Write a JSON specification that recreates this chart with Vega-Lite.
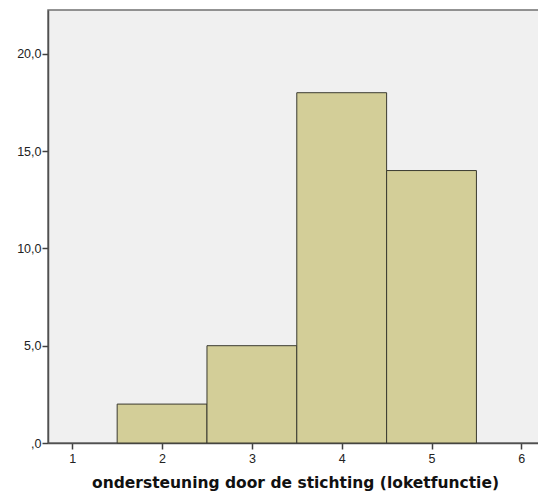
{
  "$schema": "https://vega.github.io/schema/vega-lite/v6.json",
  "autosize": {"type": "none"},
  "padding": {"left": 48, "top": 10, "right": 0, "bottom": 49},
  "width": 494,
  "height": 433,
  "background": "white",
  "config": {
    "view": {"fill": "#f0f0f0", "stroke": "#707070", "strokeWidth": 1.5},
    "font": "Liberation Sans"
  },
  "data": {
    "values": [
      {"start": 1.5, "end": 2.5, "count": 2},
      {"start": 2.5, "end": 3.5, "count": 5},
      {"start": 3.5, "end": 4.5, "count": 18},
      {"start": 4.5, "end": 5.5, "count": 14}
    ]
  },
  "mark": {"type": "rect", "fill": "#d3ce98", "stroke": "#3a3a30", "strokeWidth": 1},
  "encoding": {
    "x": {
      "field": "start", "type": "quantitative",
      "scale": {"domain": [0.73, 6.23], "nice": false, "zero": false},
      "axis": {
        "values": [1, 2, 3, 4, 5, 6],
        "title": "ondersteuning door de stichting (loketfunctie)",
        "titleFont": "DejaVu Sans", "titleFontSize": 15.5, "titleFontWeight": "bold",
        "titleColor": "#111", "titlePadding": 11, "titleAnchor": "middle",
        "labelFontSize": 12.5, "labelColor": "#222", "labelPadding": 3,
        "domainColor": "#505050", "domainWidth": 1.5,
        "tickColor": "#404040", "tickSize": 6, "tickWidth": 1.5,
        "grid": false
      }
    },
    "x2": {"field": "end"},
    "y": {
      "field": "count", "type": "quantitative",
      "scale": {"domain": [0, 22.25], "nice": false},
      "axis": {
        "values": [0, 5, 10, 15, 20],
        "labelExpr": "datum.value == 0 ? ',0' : replace(format(datum.value, '.1f'), '.', ',')",
        "title": null,
        "labelFontSize": 12.5, "labelColor": "#222", "labelPadding": 1,
        "domainColor": "#505050", "domainWidth": 1.5,
        "tickColor": "#404040", "tickSize": 6, "tickWidth": 1.5,
        "grid": false
      }
    },
    "y2": {"datum": 0}
  }
}
